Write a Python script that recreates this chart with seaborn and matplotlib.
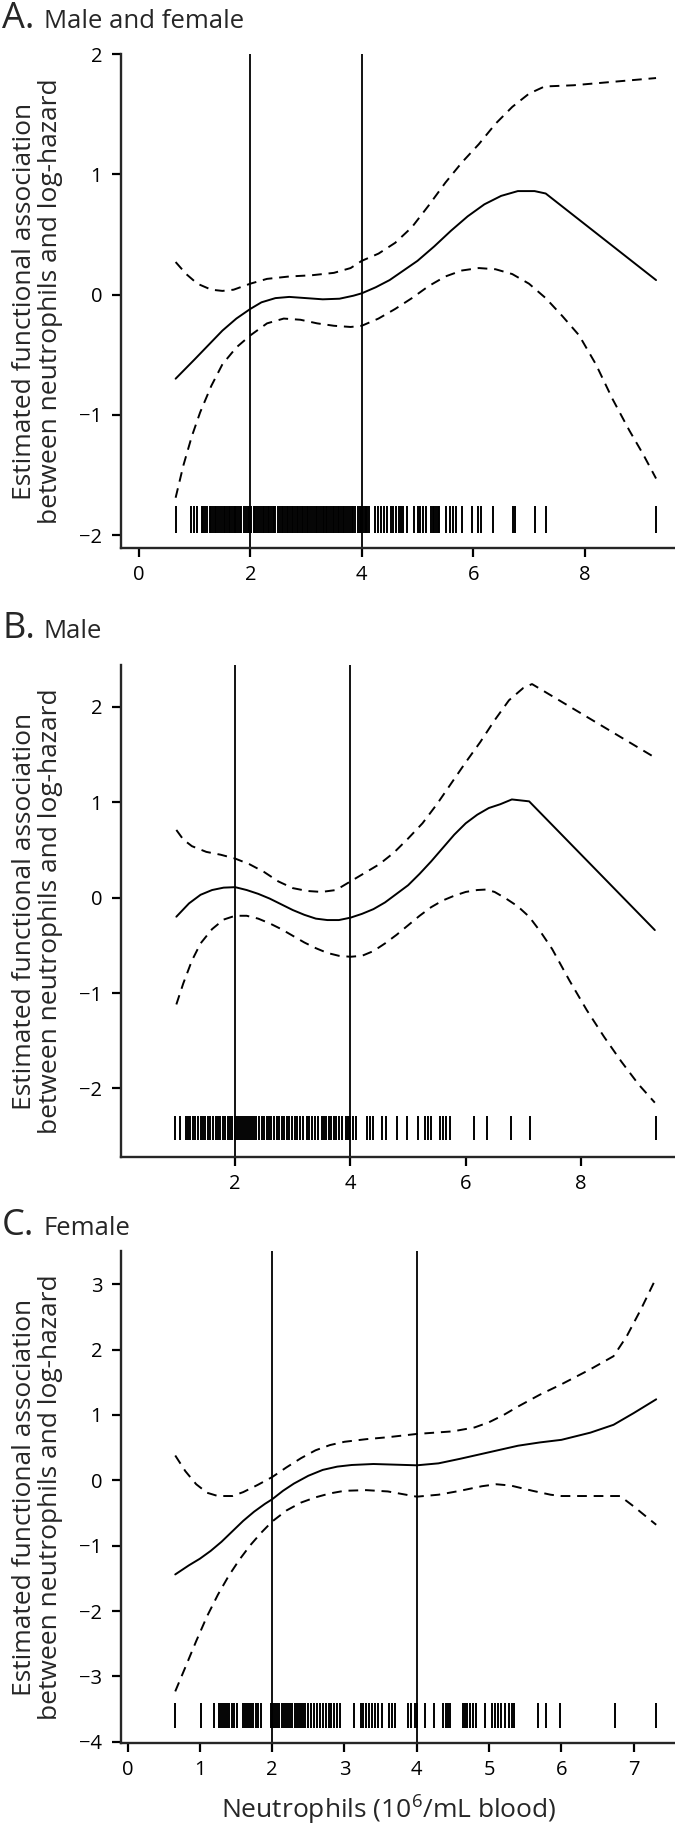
import matplotlib
matplotlib.use("Agg")
import matplotlib.pyplot as plt
import seaborn as sns

# ---- data ----
# Panel A: male and female
a_x = [0.66, 1.0, 1.25, 1.5, 1.75, 2.0, 2.2, 2.45, 2.7, 3.0, 3.3, 3.6, 3.85, 4.0, 4.25, 4.5, 4.75,
       5.0, 5.3, 5.6, 5.9, 6.2, 6.5, 6.8, 7.1, 7.3, 9.28]
a_fit = [-0.70, -0.54, -0.42, -0.30, -0.20, -0.12, -0.065, -0.03, -0.02, -0.03, -0.04, -0.035, -0.01,
         0.01, 0.06, 0.12, 0.20, 0.28, 0.40, 0.53, 0.65, 0.75, 0.82, 0.86, 0.86, 0.84, 0.12]
a_up_x = [0.66, 0.85, 1.05, 1.3, 1.5, 1.7, 2.0, 2.3, 2.7, 3.1, 3.5, 3.8, 4.0, 4.3, 4.6, 4.9, 5.2,
          5.5, 5.8, 6.1, 6.4, 6.7, 7.0, 7.28, 7.8, 9.28]
a_up = [0.27, 0.17, 0.09, 0.04, 0.03, 0.04, 0.09, 0.13, 0.15, 0.16, 0.18, 0.22, 0.28, 0.34, 0.43,
        0.56, 0.74, 0.93, 1.10, 1.25, 1.42, 1.56, 1.67, 1.73, 1.74, 1.80]
a_lo_x = [0.66, 0.8, 0.95, 1.1, 1.3, 1.5, 1.75, 2.0, 2.3, 2.6, 2.9, 3.2, 3.5, 3.8, 4.0, 4.3, 4.6,
          4.9, 5.2, 5.5, 5.8, 6.1, 6.4, 6.7, 7.0, 7.3, 7.6, 7.9, 8.2, 8.5, 8.8, 9.05, 9.28]
a_lo = [-1.69, -1.42, -1.18, -0.98, -0.76, -0.58, -0.44, -0.34, -0.24, -0.20, -0.21, -0.24, -0.26,
        -0.27, -0.26, -0.20, -0.12, -0.03, 0.07, 0.15, 0.20, 0.22, 0.21, 0.17, 0.09, -0.03, -0.18,
        -0.34, -0.58, -0.87, -1.13, -1.33, -1.53]
a_rug = [0.66, 0.94, 0.99, 1.04, 1.13, 1.16, 1.19, 1.22, 1.27, 1.30, 1.33, 1.36, 1.39, 1.42, 1.45,
         1.49, 1.52, 1.55, 1.58, 1.61, 1.64, 1.67, 1.70, 1.72, 1.75, 1.78, 1.81, 1.84, 1.89, 1.92,
         1.95, 1.98, 2.01, 2.06, 2.09, 2.12, 2.16, 2.19, 2.22, 2.25, 2.28, 2.31, 2.34, 2.37, 2.40,
         2.43, 2.45, 2.49, 2.53, 2.56, 2.59, 2.62, 2.65, 2.68, 2.71, 2.74, 2.77, 2.80, 2.83, 2.86,
         2.89, 2.92, 2.95, 2.98, 3.01, 3.03, 3.07, 3.11, 3.14, 3.17, 3.20, 3.24, 3.27, 3.30, 3.33,
         3.35, 3.38, 3.42, 3.45, 3.48, 3.51, 3.54, 3.57, 3.60, 3.63, 3.66, 3.69, 3.72, 3.75, 3.79,
         3.82, 3.85, 3.88, 3.93, 3.96, 3.99, 4.02, 4.05, 4.08, 4.10, 4.13,
         4.24, 4.30, 4.35, 4.39, 4.45, 4.53, 4.56, 4.61, 4.66, 4.70, 4.74, 4.81, 4.93, 5.00, 5.05,
         5.10, 5.15, 5.24, 5.27, 5.30, 5.33, 5.36, 5.38, 5.51, 5.58, 5.63, 5.69, 5.79, 5.97, 6.09,
         6.14, 6.35, 6.72, 6.75, 7.11, 7.30, 9.28]

# Panel B: male
b_x = [0.98, 1.2, 1.4, 1.6, 1.8, 2.0, 2.2, 2.4, 2.6, 2.8, 3.0, 3.2, 3.4, 3.6, 3.8, 4.0, 4.2, 4.4,
       4.6, 4.8, 5.0, 5.2, 5.4, 5.6, 5.8, 6.0, 6.2, 6.4, 6.6, 6.8, 7.1, 9.28]
b_fit = [-0.20, -0.06, 0.03, 0.08, 0.105, 0.11, 0.08, 0.04, -0.01, -0.07, -0.13, -0.18, -0.22,
         -0.235, -0.235, -0.21, -0.17, -0.12, -0.05, 0.04, 0.13, 0.25, 0.38, 0.52, 0.66, 0.78,
         0.87, 0.94, 0.98, 1.03, 1.01, -0.34]
b_up_x = [0.98, 1.1, 1.25, 1.5, 1.75, 2.0, 2.25, 2.5, 2.75, 3.0, 3.25, 3.5, 3.75, 4.0, 4.25, 4.5,
          4.75, 5.0, 5.25, 5.5, 5.75, 6.0, 6.25, 6.5, 6.75, 7.0, 7.15, 9.28]
b_up = [0.71, 0.61, 0.54, 0.48, 0.45, 0.41, 0.35, 0.27, 0.17, 0.10, 0.07, 0.06, 0.08, 0.17, 0.26,
        0.35, 0.47, 0.62, 0.78, 0.98, 1.20, 1.42, 1.63, 1.86, 2.07, 2.20, 2.24, 1.47]
b_lo_x = [0.98, 1.1, 1.25, 1.4, 1.6, 1.8, 2.0, 2.2, 2.4, 2.6, 2.8, 3.0, 3.2, 3.4, 3.6, 3.8, 4.0,
          4.2, 4.4, 4.6, 4.8, 5.0, 5.2, 5.4, 5.6, 5.8, 6.0, 6.2, 6.35, 6.5, 6.7, 6.9, 7.1, 7.3,
          7.5, 7.8, 8.1, 8.4, 8.7, 9.0, 9.28]
b_lo = [-1.12, -0.90, -0.66, -0.48, -0.33, -0.23, -0.19, -0.19, -0.22, -0.27, -0.33, -0.40, -0.47,
        -0.53, -0.58, -0.61, -0.62, -0.61, -0.56, -0.48, -0.39, -0.29, -0.19, -0.10, -0.03, 0.02,
        0.06, 0.08, 0.085, 0.06, -0.01, -0.09, -0.20, -0.36, -0.54, -0.87, -1.18, -1.46, -1.72,
        -1.96, -2.15]
b_rug = [0.96, 1.04, 1.14, 1.18, 1.22, 1.27, 1.31, 1.35, 1.40, 1.44, 1.48, 1.53, 1.57, 1.61, 1.66,
         1.70, 1.74, 1.79, 1.83, 1.87, 1.91, 1.95, 1.99, 2.02, 2.05, 2.09, 2.12, 2.15, 2.19, 2.22,
         2.26, 2.29, 2.33, 2.37, 2.42, 2.46, 2.50, 2.55, 2.59, 2.63, 2.68, 2.72, 2.76, 2.81, 2.85,
         2.90, 2.94, 2.98, 3.03, 3.07, 3.12, 3.18, 3.24, 3.28, 3.33, 3.38, 3.44, 3.50, 3.54, 3.58,
         3.62, 3.66, 3.71, 3.75, 3.80, 3.86, 3.92, 3.96, 4.00, 4.05, 4.10, 4.28, 4.34, 4.40, 4.55,
         4.61, 4.80, 4.98, 5.18, 5.30, 5.34, 5.39, 5.55, 5.60, 5.65, 5.72, 6.14, 6.37, 6.79, 7.12, 9.30]

# Panel C: female
c_x = [0.66, 0.85, 1.0, 1.15, 1.3, 1.45, 1.6, 1.75, 1.9, 2.0, 2.15, 2.3, 2.5, 2.7, 2.9, 3.1, 3.4,
       3.7, 4.0, 4.3, 4.6, 5.0, 5.4, 5.7, 6.0, 6.4, 6.72, 7.0, 7.31]
c_fit = [-1.44, -1.30, -1.20, -1.08, -0.94, -0.78, -0.62, -0.48, -0.36, -0.29, -0.16, -0.05, 0.07,
         0.16, 0.21, 0.235, 0.25, 0.24, 0.23, 0.26, 0.33, 0.43, 0.53, 0.58, 0.62, 0.73, 0.85, 1.03,
         1.24]
c_up_x = [0.66, 0.8, 0.95, 1.1, 1.25, 1.45, 1.6, 1.8, 2.0, 2.2, 2.4, 2.6, 2.8, 3.0, 3.3, 3.6, 4.0,
          4.5, 4.8, 5.0, 5.2, 5.4, 5.7, 6.0, 6.4, 6.72, 6.9, 7.1, 7.31]
c_up = [0.38, 0.14, -0.06, -0.19, -0.24, -0.24, -0.18, -0.07, 0.05, 0.20, 0.34, 0.46, 0.54, 0.59,
        0.63, 0.66, 0.71, 0.75, 0.81, 0.89, 1.00, 1.13, 1.31, 1.47, 1.70, 1.90, 2.20, 2.62, 3.10]
c_lo_x = [0.66, 0.8, 0.95, 1.1, 1.25, 1.4, 1.55, 1.7, 1.85, 2.0, 2.2, 2.4, 2.6, 2.8, 3.0, 3.3, 3.6,
          3.85, 4.0, 4.3, 4.6, 4.9, 5.1, 5.3, 5.6, 5.85, 6.0, 6.81, 7.0, 7.31]
c_lo = [-3.23, -2.86, -2.46, -2.08, -1.75, -1.46, -1.21, -0.99, -0.80, -0.63, -0.46, -0.34, -0.26,
        -0.20, -0.16, -0.15, -0.17, -0.22, -0.25, -0.22, -0.16, -0.09, -0.06, -0.08, -0.16, -0.22,
        -0.24, -0.24, -0.40, -0.68]
c_rug = [0.66, 1.02, 1.20, 1.27, 1.29, 1.32, 1.35, 1.38, 1.41, 1.44, 1.47, 1.52, 1.59, 1.62, 1.65,
         1.68, 1.71, 1.74, 1.77, 1.80, 1.85, 1.98, 2.01, 2.04, 2.07, 2.10, 2.13, 2.16, 2.19, 2.22,
         2.25, 2.28, 2.31, 2.34, 2.37, 2.40, 2.43, 2.46, 2.50, 2.54, 2.58, 2.62, 2.66, 2.70, 2.74,
         2.78, 2.82, 2.86, 2.90, 2.94, 3.13, 3.23, 3.26, 3.30, 3.34, 3.38, 3.42, 3.47, 3.52, 3.61,
         3.66, 3.70, 3.88, 3.92, 3.98, 4.00, 4.12, 4.24, 4.36, 4.40, 4.43, 4.46, 4.64, 4.67, 4.70,
         4.74, 4.78, 4.82, 4.94, 5.04, 5.08, 5.12, 5.17, 5.22, 5.27, 5.31, 5.35, 5.68, 5.79, 5.98,
         6.74, 7.31]

cutoffs = [2, 4]
ylabel = "Estimated functional association\nbetween neutrophils and log-hazard"
xlabel = r"Neutrophils (10$^{6}$/mL blood)"

sns.set_style("ticks")
plt.rcParams["font.family"] = ["Open Sans", "DejaVu Sans"]
plt.rcParams["mathtext.fontset"] = "custom"
plt.rcParams["mathtext.rm"] = "Open Sans"

W, H = 675, 1829
fig = plt.figure(figsize=(W / 100, H / 100), dpi=100)


def px_axes(left, top, right, bottom):
    return fig.add_axes([left / W, 1 - bottom / H, (right - left) / W, (bottom - top) / H])


panels = [
    dict(box=(121, 54, 675, 548), letter="A.", name="Male and female", base=28,
         x=a_x, fit=a_fit, ux=a_up_x, up=a_up, lx=a_lo_x, lo=a_lo, rug=a_rug, rug_y=(-1.98, -1.76),
         xlim=(-0.32, 9.62), ylim=(-2.108, 2.0), xticks=[0, 2, 4, 6, 8], yticks=[-2, -1, 0, 1, 2]),
    dict(box=(121, 665, 675, 1157), letter="B.", name="Male", base=638,
         x=b_x, fit=b_fit, ux=b_up_x, up=b_up, lx=b_lo_x, lo=b_lo, rug=b_rug, rug_y=(-2.54, -2.29),
         xlim=(0.02, 9.63), ylim=(-2.72, 2.44), xticks=[2, 4, 6, 8], yticks=[-2, -1, 0, 1, 2]),
    dict(box=(121, 1251, 675, 1743), letter="C.", name="Female", base=1235,
         x=c_x, fit=c_fit, ux=c_up_x, up=c_up, lx=c_lo_x, lo=c_lo, rug=c_rug, rug_y=(-3.79, -3.41),
         xlim=(-0.09, 7.57), ylim=(-4.02, 3.51), xticks=list(range(8)), yticks=list(range(-4, 4))),
]

dash = (0, (5, 3.5))
for i, p in enumerate(panels):
    ax = px_axes(*p["box"])
    sns.lineplot(x=p["x"], y=p["fit"], color="black", lw=1.4, ax=ax)
    sns.lineplot(x=p["ux"], y=p["up"], color="black", lw=1.4, ax=ax, linestyle=dash)
    sns.lineplot(x=p["lx"], y=p["lo"], color="black", lw=1.4, ax=ax, linestyle=dash)
    for c in cutoffs:
        ax.axvline(c, color="black", lw=1.3)
    ax.vlines(p["rug"], p["rug_y"][0], p["rug_y"][1], color="black", lw=1.4)

    ax.set_xlim(*p["xlim"])
    ax.set_ylim(*p["ylim"])
    ax.set_xticks(p["xticks"])
    ax.set_yticks(p["yticks"])
    sns.despine(ax=ax)
    for s in ["left", "bottom"]:
        ax.spines[s].set_linewidth(1.7)
    ax.tick_params(axis="both", labelsize=14.5, length=6.5, width=1.6, color="black",
                   labelcolor="black")
    ax.tick_params(axis="y", pad=7)
    ax.tick_params(axis="x", pad=6)

    ax.set_ylabel(ylabel, fontsize=19, va="center", linespacing=1.06)
    ax.yaxis.set_label_coords(-0.150, 0.5)
    if i == 2:
        ax.set_xlabel(xlabel, fontsize=19, va="center")
        ax.xaxis.set_label_coords(0.484, -0.134)
    else:
        ax.set_xlabel("")

    fig.text(2 / W, 1 - p["base"] / H, p["letter"], fontsize=26, va="baseline", ha="left")
    fig.text(44 / W, 1 - p["base"] / H, p["name"], fontsize=18.5, va="baseline", ha="left")

fig.savefig("out.png", dpi=100)
